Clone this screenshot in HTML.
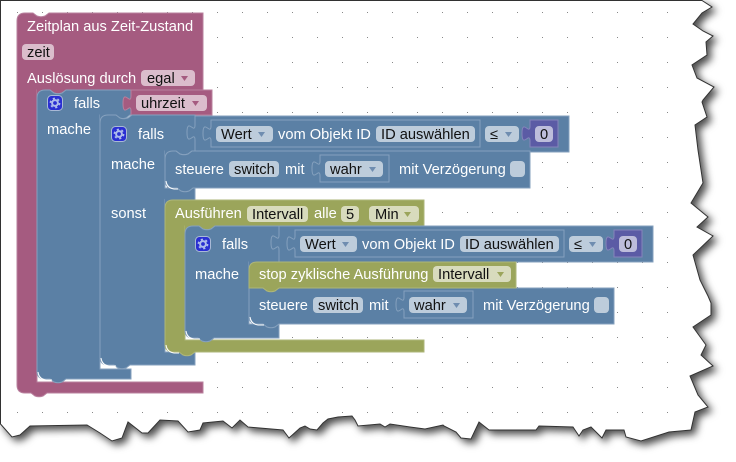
<!DOCTYPE html>
<html><head><meta charset="utf-8"><style>
html,body{margin:0;padding:0;background:#fff}
svg{display:block}
text{font-family:"Liberation Sans",sans-serif;font-size:14.67px}
.w{fill:#fff}.k{fill:#111}
.ar{fill:#6f8db0}
.p{fill:#A55B80;stroke:#b9809e;stroke-width:1}
.b{fill:#5B80A5;stroke:#86a1be;stroke-width:1}
.o{fill:#9BA55B;stroke:#aeb67a;stroke-width:1}
.n{fill:#5B5BA5;stroke:#8585bb;stroke-width:1}
.fb{fill:#bdccdb}.fp{fill:#dbbdcc}.fo{fill:#d8dbbd}.fn{fill:#bdbddb}
.h{fill:none;stroke:#fff;stroke-width:1}
.ic{fill:#2a2fd2;stroke:#a9b9d6;stroke-width:1}
.gr{fill:none;stroke:#aebcec;stroke-width:2}
.gt{fill:none;stroke:#aebcec;stroke-width:1.600;stroke-dasharray:2.200 2.620}
</style></head><body>
<svg width="736" height="462" viewBox="0 0 736 462" xmlns="http://www.w3.org/2000/svg">
<defs>
<pattern id="g" x="17" y="12" width="25" height="25" patternUnits="userSpaceOnUse"><rect width="1" height="1" fill="#888"/></pattern>
<filter id="s" x="-5%" y="-5%" width="112%" height="115%"><feDropShadow dx="4" dy="4" stdDeviation="4" flood-color="#000" flood-opacity=".7"/></filter>
</defs>
<rect width="736" height="462" fill="#fff"/>
<path filter="url(#s)" fill="#fff" stroke="#333" stroke-width="1" d="M0.500 0.500H702L712 7L702 13L693 24L703 31L713 36L706 42L707 55L692 65L697 78L714 87L703 100L702 102L707 117L695 125L698 150L703 183L691 203L708 217L697 227L713 236L693 255L700 280L708 296L711 303L711 315L693 327L706 345L701 355L713 366L690 376L698 395L708 407L695 412L691 430L669 432L641 441L626 437L624 430L606 430L602 438L591 427L583 430L579 436L573 427L539 426L536 430L489 430L479 422L471 439L461 438L456 432L444 426L443 425L425 429L410 427L390 424L385 427L380 424L358 426L355 420L352 416L338 417L328 419L323 423L317 430L310 429L305 426L300 428L289 438L283 430L248 427L240 420L232 428L223 421L203 423L200 430L188 432L178 421L160 420L148 433L142 433L128 422L122 438L112 441L100 433L87 425L30 426L20 435L12 437L0.500 424Z"/>
<rect x="2" y="2" width="688" height="415" fill="url(#g)"/>

<!-- pink block -->
<path class="p" d="M17 21Q17 13 25 13H33l4 3q4 1.500 8 0l4-3H203V90H66l-4 3q-4 1.500-8 0l-4-3H37V382H203V393H47l-4 3q-4 1.500-8 0l-4-3H25Q17 393 17 385Z"/>
<text class="w" x="27" y="31">Zeitplan aus Zeit-Zustand</text>
<rect class="fp" x="22" y="44" width="32" height="16" rx="4"/><text class="k" x="27" y="57">zeit</text>
<text class="w" x="27" y="83">Auslösung durch</text>
<rect class="fp" x="141" y="70" width="54" height="16" rx="4"/><text class="k" x="147" y="83">egal</text>
<path fill="#A55B80" d="M181 76h7l-3.500 5z"/>

<!-- falls 1 -->
<rect x="37" y="89" width="9" height="10" fill="#A55B80"/>
<path class="b" d="M37 98Q37 90 45 90H50l4 3q4 1.500 8 0l4-3H131V115H130l-4 3q-4 1.500-8 0l-4-3H100V369H131V379H66l-4 3q-4 1.500-8 0l-4-3H45Q37 379 37 371Z"/>
<path class="h" d="M38 372Q39 379 46 380H52"/>
<!-- uhrzeit -->
<path class="p" d="M131 90H212V115H131V111c0-10-8 8-8-7.500s8 2.500 8-7.500Z"/>
<rect class="fp" x="136" y="95" width="71" height="16" rx="4"/><text class="k" x="141" y="108">uhrzeit</text>
<path fill="#A55B80" d="M192 101h7l-3.500 5z"/>
<rect class="ic" x="47.500" y="95.500" width="15" height="15" rx="4"/>
<circle class="gr" cx="55" cy="103" r="2.900"/><circle class="gt" cx="55" cy="103" r="4.600"/>
<text class="w" x="74" y="108">falls</text>
<text class="w" x="47" y="134">mache</text>

<!-- falls 2 -->
<rect x="100" y="114" width="9" height="10" fill="#5B80A5"/>
<path class="b" d="M100 123Q100 115 108 115H116l4 3q4 1.500 8 0l4-3H195V151H192l-4 3q-4 1.500-8 0l-4-3H165V188H195V200H180l-4 3q-4 1.500-8 0l-3-3V352H195V365H130l-4 3q-4 1.500-8 0l-4-3H108Q100 365 100 357Z"/>
<path class="h" d="M101 358Q102 365 109 366H116"/>
<rect class="ic" x="111.500" y="126.500" width="15" height="15" rx="4"/>
<circle class="gr" cx="119" cy="134" r="2.900"/><circle class="gt" cx="119" cy="134" r="4.600"/>
<text class="w" x="138" y="139">falls</text>
<text class="w" x="111" y="169">mache</text>
<text class="w" x="111" y="218">sonst</text>

<!-- compare 1 -->
<path class="b" d="M195 116H569V152H195V140c0-10-8 8-8-7.500s8 2.500 8-7.500Z"/>
<path class="b" d="M211 120H480V147H211V141c0-10-8 8-8-7.500s8 2.500 8-7.500Z"/>
<rect class="fb" x="216" y="126" width="57" height="16" rx="4"/><text class="k" x="221" y="139">Wert</text>
<path class="ar" d="M258 132h7l-3.500 5z"/>
<text class="w" x="278" y="139">vom Objekt ID</text>
<rect class="fb" x="376" y="126" width="99" height="16" rx="4"/><text class="k" x="381" y="139">ID auswählen</text>
<rect class="fb" x="485" y="126" width="34" height="16" rx="4"/><text class="k" x="490" y="139">≤</text>
<path class="ar" d="M505 132h7l-3.500 5z"/>
<path class="n" d="M530 120H558V147H530V141c0-10-8 8-8-7.500s8 2.500 8-7.500Z"/>
<rect class="fn" x="535" y="126" width="18" height="16" rx="4"/><text class="k" x="540" y="139">0</text>

<!-- steuere 1 -->
<rect x="165" y="150" width="9" height="10" fill="#5B80A5"/>
<path class="b" d="M165 159Q165 151 173 151H176l4 3q4 1.500 8 0l4-3H530V188H193l-4 3q-4 1.500-8 0l-4-3H173Q165 188 165 180Z"/>
<path class="h" d="M166 181Q167 188 174 189H178"/>
<text class="w" x="175" y="174">steuere</text>
<rect class="fb" x="229" y="161" width="50" height="16" rx="4"/><text class="k" x="234" y="174">switch</text>
<text class="w" x="285" y="174">mit</text>
<path class="b" d="M320 155H389V182H320V176c0-10-8 8-8-7.500s8 2.500 8-7.500Z"/>
<rect class="fb" x="325" y="161" width="58" height="16" rx="4"/><text class="k" x="330" y="174">wahr</text>
<path class="ar" d="M369 167h7l-3.500 5z"/>
<text class="w" x="399" y="174">mit Verzögerung</text>
<rect class="fb" x="510" y="161" width="15" height="16" rx="4"/>

<!-- olive -->
<rect x="165" y="199" width="9" height="10" fill="#5B80A5"/>
<path class="o" d="M165 208Q165 200 173 200H424V226H215l-4 3q-4 1.500-8 0l-4-3H185V340H424V352H195l-4 3q-4 1.500-8 0l-4-3H173Q165 352 165 344Z"/>
<path class="h" d="M166 345Q167 352 174 353H179"/>
<text class="w" x="175" y="218">Ausführen</text>
<rect class="fo" x="247" y="206" width="61" height="16" rx="4"/><text class="k" x="252" y="219">Intervall</text>
<text class="w" x="314" y="218">alle</text>
<rect class="fo" x="341" y="206" width="18" height="16" rx="4"/><text class="k" x="346" y="219">5</text>
<rect class="fo" x="369" y="206" width="50" height="16" rx="4"/><text class="k" x="375" y="219">Min</text>
<path fill="#9BA55B" d="M404 212h7l-3.500 5z"/>

<!-- falls 3 -->
<rect x="185" y="225" width="9" height="10" fill="#9BA55B"/>
<path class="b" d="M185 234Q185 226 193 226H199l4 3q4 1.500 8 0l4-3H279V262H279l-4 3q-4 1.500-8 0l-4-3H249V324H279V338H214l-4 3q-4 1.500-8 0l-4-3H193Q185 338 185 330Z"/>
<path class="h" d="M186 331Q187 338 194 339H200"/>
<rect class="ic" x="195.500" y="236.500" width="15" height="15" rx="4"/>
<circle class="gr" cx="203" cy="244" r="2.900"/><circle class="gt" cx="203" cy="244" r="4.600"/>
<text class="w" x="222" y="249">falls</text>
<text class="w" x="195" y="279">mache</text>

<!-- compare 2 -->
<path class="b" d="M279 226H653V262H279V250c0-10-8 8-8-7.500s8 2.500 8-7.500Z"/>
<path class="b" d="M295 230H564V257H295V251c0-10-8 8-8-7.500s8 2.500 8-7.500Z"/>
<rect class="fb" x="300" y="236" width="57" height="16" rx="4"/><text class="k" x="305" y="249">Wert</text>
<path class="ar" d="M342 242h7l-3.500 5z"/>
<text class="w" x="362" y="249">vom Objekt ID</text>
<rect class="fb" x="460" y="236" width="99" height="16" rx="4"/><text class="k" x="465" y="249">ID auswählen</text>
<rect class="fb" x="569" y="236" width="34" height="16" rx="4"/><text class="k" x="574" y="249">≤</text>
<path class="ar" d="M589 242h7l-3.500 5z"/>
<path class="n" d="M614 230H642V257H614V251c0-10-8 8-8-7.500s8 2.500 8-7.500Z"/>
<rect class="fn" x="619" y="236" width="18" height="16" rx="4"/><text class="k" x="624" y="249">0</text>

<!-- steuere 2 -->
<path class="b" d="M249 288H614V324H279l-4 3q-4 1.500-8 0l-4-3H257Q249 324 249 316Z"/>
<path class="h" d="M250 317Q251 324 258 325H264"/>
<text class="w" x="259" y="310">steuere</text>
<rect class="fb" x="313" y="297" width="50" height="16" rx="4"/><text class="k" x="318" y="310">switch</text>
<text class="w" x="369" y="310">mit</text>
<path class="b" d="M404 291H473V318H404V312c0-10-8 8-8-7.500s8 2.500 8-7.500Z"/>
<rect class="fb" x="409" y="297" width="58" height="16" rx="4"/><text class="k" x="414" y="310">wahr</text>
<path class="ar" d="M453 303h7l-3.500 5z"/>
<text class="w" x="483" y="310">mit Verzögerung</text>
<rect class="fb" x="594" y="297" width="15" height="16" rx="4"/>

<!-- stop -->
<rect x="249" y="261" width="9" height="10" fill="#5B80A5"/>
<path class="o" d="M249 270Q249 262 257 262H516V288H279l-4 3q-4 1.500-8 0l-4-3H249Z"/>
<text class="w" x="259" y="279">stop zyklische Ausführung</text>
<rect class="fo" x="433" y="266" width="78" height="16" rx="4"/><text class="k" x="438" y="279">Intervall</text>
<path fill="#9BA55B" d="M497 272h7l-3.500 5z"/>
</svg>
</body></html>
